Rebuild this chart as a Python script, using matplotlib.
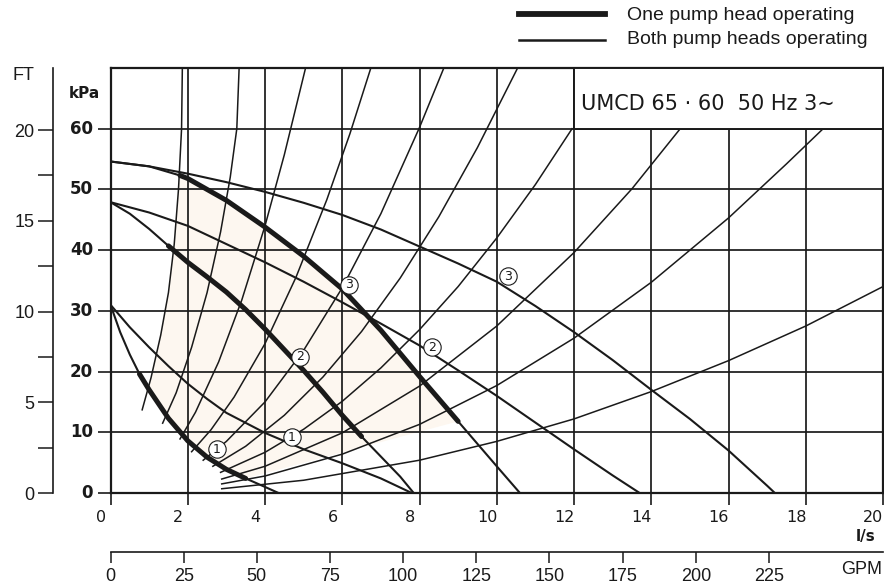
import matplotlib
matplotlib.use("Agg")
import matplotlib.pyplot as plt
from matplotlib.lines import Line2D
from matplotlib.patches import Rectangle, Polygon

plt.rcParams["font.family"] = ["Liberation Sans", "DejaVu Sans"]

# ---------------- axis values ----------------
flow_ticks = [0, 2, 4, 6, 8, 10, 12, 14, 16, 18, 20]          # l/s
head_ticks = [0, 10, 20, 30, 40, 50, 60]                       # kPa
ft_major = [0, 5, 10, 15, 20]                                  # FT
ft_minor = [2.5, 7.5, 12.5, 17.5]
gpm_ticks = [0, 25, 50, 75, 100, 125, 150, 175, 200, 225]      # imp. GPM
KPA_PER_FT = 2.989
GPM_PER_LS = 13.198

# ---------------- one pump head operating ----------------
q_one_1 = [0, 0.25, 0.5, 0.75, 1.0, 1.5, 2.0, 2.5, 3.0, 3.5, 4.0, 4.35]
h_one_1 = [31.0, 26.5, 22.8, 19.6, 17.0, 12.3, 8.6, 5.9, 3.9, 2.4, 1.0, 0]
q_one_2 = [0, 0.5, 1, 1.5, 2, 2.5, 3, 3.5, 4, 4.5, 5, 5.5, 6, 6.5, 7, 7.5, 7.85]
h_one_2 = [47.9, 46.0, 43.5, 40.7, 38.0, 35.6, 33.1, 30.2, 27.0, 23.6, 20.2, 16.6,
           12.8, 9.3, 6.0, 2.7, 0]
q_one_3 = [0, 1, 1.8, 2, 3, 4, 5, 6, 7, 8, 9, 10, 10.6]
h_one_3 = [54.6, 53.8, 52.3, 51.8, 48.2, 43.8, 39.0, 33.6, 26.8, 19.2, 11.8, 4.4, 0]
bold_range_1 = (0.75, 3.5)
bold_range_2 = (1.5, 6.5)
bold_range_3 = (1.8, 9.0)

# ---------------- both pump heads operating ----------------
q_both_1 = [0, 0.5, 1, 1.5, 2, 2.5, 3, 4, 5, 6, 7, 7.8]
h_both_1 = [31.0, 27.3, 24.0, 20.9, 18.0, 15.5, 13.2, 9.9, 7.2, 4.9, 2.4, 0]
q_both_2 = [0, 1, 2, 3, 4, 5, 6, 7, 8, 9, 10, 11, 12, 13, 13.7]
h_both_2 = [47.9, 46.2, 44.0, 41.0, 38.0, 34.8, 31.4, 27.9, 24.3, 20.2, 16.0, 11.6,
            7.2, 2.9, 0]
q_both_3 = [0, 1, 2, 3, 4, 5, 6, 7, 8, 9, 10, 11, 12, 13, 14, 15, 16, 17, 17.2]
h_both_3 = [54.6, 53.8, 52.6, 51.2, 49.6, 47.8, 45.8, 43.4, 40.6, 37.8, 34.8, 30.8,
            26.5, 21.9, 17.0, 12.2, 7.0, 1.2, 0]

# ---------------- system curves ----------------
sys_a_q = [0.82, 1.05, 1.3, 1.5, 1.65, 1.76, 1.84, 1.86]
sys_a_h = [13.7, 19.0, 26.0, 33.0, 41.0, 50.0, 60.0, 70.0]
sys_b_q = [1.35, 1.7, 2.1, 2.5, 2.85, 3.1, 3.27, 3.33]
sys_b_h = [11.5, 16.5, 24.0, 33.0, 43.0, 52.0, 60.0, 70.0]
sys_c_q = [1.8, 2.2, 2.8, 3.4, 4.0, 4.5, 5.05]
sys_c_h = [8.9, 13.3, 21.6, 31.8, 44.0, 55.7, 70.0]
sys_d_q = [2.1, 2.6, 3.2, 4.0, 4.8, 5.6, 6.2, 6.74]
sys_d_h = [6.8, 10.4, 15.8, 24.6, 35.5, 48.3, 59.2, 70.0]
sys_e_q = [2.4, 3.0, 4.0, 5.0, 6.0, 7.0, 8.0, 8.63]
sys_e_h = [5.4, 8.5, 15.0, 23.5, 33.8, 46.0, 60.2, 70.0]
sys_f_q = [2.65, 3.5, 4.5, 5.5, 6.5, 7.5, 8.5, 9.5, 10.54]
sys_f_h = [4.4, 7.7, 12.8, 19.1, 26.6, 35.4, 45.5, 56.9, 70.0]
sys_g_q = [2.85, 4, 5, 6, 7, 8, 9, 10, 11, 11.95]
sys_g_h = [3.4, 6.7, 10.5, 15.1, 20.6, 26.9, 34.0, 42.0, 50.8, 60.0]
sys_h_q = [2.88, 4, 6, 8, 10, 12, 13.5, 14.75]
sys_h_h = [2.3, 4.4, 9.9, 17.6, 27.5, 39.6, 50.1, 60.0]
sys_i_q = [2.88, 4, 6, 8, 10, 12, 14, 16, 17.5, 18.45]
sys_i_h = [1.5, 2.8, 6.4, 11.3, 17.7, 25.5, 34.7, 45.3, 54.2, 60.0]
sys_j_q = [2.88, 5, 8, 10, 12, 14, 16, 18, 20]
sys_j_h = [0.7, 2.1, 5.4, 8.5, 12.2, 16.7, 21.8, 27.5, 34.0]

# ---------------- curve markers ----------------
mark_text = ["3", "3", "2", "2", "1", "1"]
mark_q = [6.18, 10.30, 4.91, 8.33, 2.76, 4.70]
mark_h = [34.3, 35.7, 22.4, 24.0, 7.2, 9.2]

TITLE = "UMCD 65 · 60  50 Hz 3\u223c"
LEGEND_ONE = "One pump head operating"
LEGEND_BOTH = "Both pump heads operating"

INK = "#1a1a1a"
SHADE = "#fdf7f0"
W, H = 884, 584
L_PX, R_PX, T_PX, B_PX = 110.5, 883, 68, 493


def fpos(px, py):
    return px / W, 1 - py / H


fig = plt.figure(figsize=(W / 100, H / 100), dpi=100)
fig.patch.set_facecolor("white")

ax = fig.add_axes([L_PX / W, 1 - B_PX / H, (R_PX - L_PX) / W, (B_PX - T_PX) / H])
ax.set_xlim(0, 20)
ax.set_ylim(0, 70)
for s in ax.spines.values():
    s.set_linewidth(1.6)
    s.set_color(INK)

# grid
for v in flow_ticks[1:-1]:
    ax.plot([v, v], [0, 70], color=INK, lw=1.25, zorder=1)
for v in head_ticks[1:]:
    ax.plot([0, 20], [v, v], color=INK, lw=1.25, zorder=1)

# operating area shading
shade_pts = []
shade_pts += list(zip(sys_a_q[:6], sys_a_h[:6]))
shade_pts += [(q, h) for q, h in zip(q_one_3, h_one_3) if 1.8 <= q <= 9.0]
shade_pts += [(q, h) for q, h in zip(q_one_1, h_one_1) if 0.95 <= q <= 3.5][::-1]
ax.add_patch(Polygon(shade_pts, closed=True, facecolor=SHADE, edgecolor="none", zorder=0.5))

# system curves
for qs, hs in [(sys_a_q, sys_a_h), (sys_b_q, sys_b_h), (sys_c_q, sys_c_h),
               (sys_d_q, sys_d_h), (sys_e_q, sys_e_h), (sys_f_q, sys_f_h),
               (sys_g_q, sys_g_h), (sys_h_q, sys_h_h), (sys_i_q, sys_i_h),
               (sys_j_q, sys_j_h)]:
    ax.plot(qs, hs, color=INK, lw=1.1, zorder=2, solid_joinstyle="round")

# both heads (thin)
for qs, hs in [(q_both_1, h_both_1), (q_both_2, h_both_2), (q_both_3, h_both_3)]:
    ax.plot(qs, hs, color=INK, lw=1.5, zorder=3, solid_joinstyle="round")

# one head: thin full curve, bold over the operating range
for qs, hs, (lo, hi) in [(q_one_1, h_one_1, bold_range_1),
                         (q_one_2, h_one_2, bold_range_2),
                         (q_one_3, h_one_3, bold_range_3)]:
    ax.plot(qs, hs, color=INK, lw=1.5, zorder=3, solid_joinstyle="round")
    bq = [q for q in qs if lo <= q <= hi]
    bh = [h for q, h in zip(qs, hs) if lo <= q <= hi]
    ax.plot(bq, bh, color=INK, lw=3.6, zorder=4, solid_capstyle="round",
            solid_joinstyle="round")

# circled curve numbers
for t, q, h in zip(mark_text, mark_q, mark_h):
    ax.plot(q, h, marker="o", ms=12.5, mfc="white", mec=INK, mew=0.8, zorder=6)
    ax.text(q, h, t, ha="center", va="center", fontsize=9, color=INK, zorder=7,
            family="DejaVu Sans")

# title box
ax.add_patch(Rectangle((12, 60), 8, 10, facecolor="white", edgecolor=INK, lw=1.4,
                       zorder=5))
ax.text(12.18, 70 - (104 - T_PX) / 6.071, TITLE, ha="left", va="center", fontsize=15,
        color=INK, zorder=6, family="DejaVu Sans")

# ticks of the main axes
ax.set_xticks(flow_ticks)
ax.set_yticks(head_ticks)
ax.tick_params(axis="x", direction="out", length=8.5, width=1.2, color=INK,
               labelbottom=False)
ax.tick_params(axis="y", direction="out", length=9.5, width=1.2, color=INK,
               labelleft=False)
for v in flow_ticks:
    ax.text(v - 0.25, -(517 - B_PX) / 6.071, str(v), ha="center", va="center",
            fontsize=11.5, color=INK, family="DejaVu Sans", clip_on=False)
for v in head_ticks:
    ax.text(-(L_PX - 93) / 38.6, v, str(v), ha="right", va="center", fontsize=12,
            fontweight="bold", color=INK, family="DejaVu Sans", clip_on=False)

# FT scale
ax_ft = fig.add_axes([53 / W, 1 - B_PX / H, 0.0005, (B_PX - T_PX) / H])
ax_ft.set_ylim(0, 70 / KPA_PER_FT)
ax_ft.set_xlim(0, 1)
for k in ("top", "right", "bottom"):
    ax_ft.spines[k].set_visible(False)
ax_ft.spines["left"].set_linewidth(1.2)
ax_ft.spines["left"].set_color(INK)
ax_ft.set_xticks([])
ax_ft.set_yticks(ft_major)
ax_ft.set_yticks(ft_minor, minor=True)
ax_ft.set_yticklabels([str(v) for v in ft_major])
ax_ft.tick_params(axis="y", which="both", direction="out", length=11, width=1.1,
                  color=INK, pad=2.5, labelsize=13, labelcolor=INK)
ax_ft.patch.set_visible(False)

# GPM scale
ax_g = fig.add_axes([L_PX / W, 1 - 552 / H, (R_PX - L_PX) / W, 0.0005])
ax_g.set_xlim(0, 20 * GPM_PER_LS)
ax_g.set_ylim(0, 1)
for k in ("top", "right", "left"):
    ax_g.spines[k].set_visible(False)
ax_g.spines["bottom"].set_linewidth(1.2)
ax_g.spines["bottom"].set_color(INK)
ax_g.set_yticks([])
ax_g.set_xticks(gpm_ticks)
ax_g.set_xticklabels([str(v) for v in gpm_ticks])
ax_g.tick_params(axis="x", direction="out", length=8, width=1.1, color=INK, pad=3.5,
                 labelsize=13, labelcolor=INK)
ax_g.patch.set_visible(False)

# axis captions
fig.text(*fpos(23, 75), "FT", ha="center", va="center", fontsize=13, color=INK)
fig.text(*fpos(84, 94), "kPa", ha="center", va="center", fontsize=11,
         fontweight="bold", color=INK, family="DejaVu Sans")
fig.text(*fpos(866, 537), "l/s", ha="center", va="center", fontsize=11,
         fontweight="bold", color=INK, family="DejaVu Sans")
fig.text(*fpos(882, 570), "GPM", ha="right", va="center", fontsize=13, color=INK)

# legend
fig.add_artist(Line2D([519 / W, 605 / W], [1 - 14 / H] * 2, lw=4.2, color=INK))
fig.add_artist(Line2D([519 / W, 605 / W], [1 - 40 / H] * 2, lw=1.8, color=INK))
fig.text(*fpos(627, 15), LEGEND_ONE, ha="left", va="center", fontsize=14, color=INK)
fig.text(*fpos(627, 40), LEGEND_BOTH, ha="left", va="center", fontsize=14, color=INK)

fig.savefig("out.png", dpi=100, facecolor="white")
